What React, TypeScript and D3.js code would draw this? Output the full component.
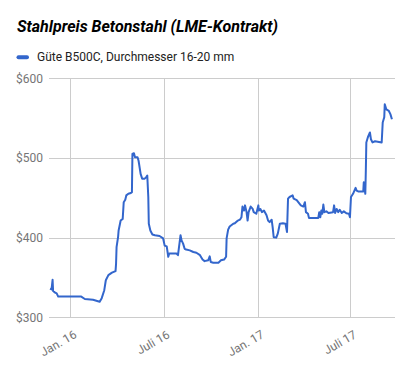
import { useRef, useEffect } from "react";
import * as d3 from "d3";

const title = "Stahlpreis Betonstahl (LME-Kontrakt)";
const seriesName = "Güte B500C, Durchmesser 16-20 mm";

const dates = [
  "2015-11-22", "2015-11-25", "2015-11-27", "2015-11-28", "2015-12-02", "2015-12-05", "2015-12-08", "2015-12-31",
  "2016-01-11", "2016-01-22", "2016-01-29", "2016-02-14", "2016-02-27", "2016-03-02", "2016-03-07", "2016-03-10",
  "2016-03-15", "2016-03-22", "2016-03-29", "2016-03-30", "2016-03-31", "2016-04-03", "2016-04-04", "2016-04-08",
  "2016-04-12", "2016-04-14", "2016-04-17", "2016-04-19", "2016-04-23", "2016-04-28", "2016-04-30", "2016-05-01",
  "2016-05-04", "2016-05-06", "2016-05-11", "2016-05-13", "2016-05-17", "2016-05-20", "2016-05-25", "2016-05-28",
  "2016-05-30", "2016-06-01", "2016-06-02", "2016-06-05", "2016-06-09", "2016-06-14", "2016-06-23", "2016-06-30",
  "2016-07-03", "2016-07-07", "2016-07-10", "2016-07-12", "2016-07-26", "2016-07-29", "2016-08-03", "2016-08-05",
  "2016-08-08", "2016-08-11", "2016-08-14", "2016-08-21", "2016-08-28", "2016-09-03", "2016-09-10", "2016-09-15",
  "2016-09-19", "2016-09-26", "2016-09-29", "2016-10-01", "2016-10-06", "2016-10-16", "2016-10-21", "2016-10-27",
  "2016-10-31", "2016-11-01", "2016-11-04", "2016-11-07", "2016-11-14", "2016-11-17", "2016-11-22", "2016-11-27",
  "2016-11-30", "2016-12-02", "2016-12-05", "2016-12-07", "2016-12-10", "2016-12-12", "2016-12-14", "2016-12-18",
  "2016-12-22", "2016-12-24", "2016-12-29", "2017-01-02", "2017-01-03", "2017-01-06", "2017-01-09", "2017-01-13",
  "2017-01-18", "2017-01-21", "2017-01-24", "2017-01-28", "2017-01-30", "2017-02-01", "2017-02-06", "2017-02-09",
  "2017-02-13", "2017-02-19", "2017-02-24", "2017-02-27", "2017-03-01", "2017-03-04", "2017-03-10", "2017-03-12",
  "2017-03-18", "2017-03-21", "2017-03-26", "2017-03-31", "2017-04-03", "2017-04-05", "2017-04-09", "2017-04-11",
  "2017-04-29", "2017-05-01", "2017-05-03", "2017-05-05", "2017-05-07", "2017-05-09", "2017-05-11", "2017-05-15",
  "2017-05-19", "2017-05-28", "2017-05-30", "2017-06-01", "2017-06-04", "2017-06-07", "2017-06-10", "2017-06-14",
  "2017-06-18", "2017-06-23", "2017-06-28", "2017-06-30", "2017-07-02", "2017-07-06", "2017-07-11", "2017-07-13",
  "2017-07-16", "2017-07-26", "2017-07-27", "2017-07-30", "2017-07-31", "2017-08-01", "2017-08-04", "2017-08-08",
  "2017-08-10", "2017-08-13", "2017-08-18", "2017-08-31", "2017-09-02", "2017-09-05", "2017-09-06", "2017-09-09",
  "2017-09-14", "2017-09-17", "2017-09-20",
];

const prices = [
  336, 335, 347, 333, 331, 330, 326, 326,
  326, 326, 323, 322, 319.5, 324, 334, 346.5,
  353, 356, 358, 367, 388, 401, 409, 421.5,
  423.5, 444.5, 447.5, 453, 455, 456, 457, 505,
  506, 501, 501, 496.5, 480, 474, 474, 476,
  478, 451, 417.5, 409, 404, 403, 402, 399,
  390, 389, 376, 380, 380, 378, 403, 396.5,
  392.5, 386, 385, 384, 382, 381, 378, 372.5,
  370.5, 371.5, 376.5, 369.5, 368.5, 368.5, 371.5, 372.5,
  376, 399, 410, 414, 417.5, 418, 421, 422.5,
  425.5, 439, 434, 440.5, 432, 421.5, 432, 439,
  436, 432, 430, 440.5, 434, 436, 432, 434,
  428, 421.5, 419.5, 422.5, 413, 400.5, 400, 405,
  417.5, 418, 417.5, 407, 449, 451, 453, 449,
  447, 444.5, 440.5, 439, 444.5, 432, 430, 424.5,
  424.5, 432, 425.5, 434, 430, 441.5, 432, 433,
  431, 432, 440.5, 431, 436, 432, 435, 431,
  433, 430.5, 430, 425.5, 451, 455, 462.5, 459,
  458, 458, 469.5, 455, 484, 519.5, 526, 532,
  523.5, 519.5, 521, 519.5, 544.5, 551, 567.5, 561,
  559, 555, 548.5,
];

const yTicks = [300, 400, 500, 600];
const xTickDates = ["2016-01-01", "2016-07-01", "2017-01-01", "2017-07-01"];
const xTickLabels = ["Jan. 16", "Juli 16", "Jan. 17", "Juli 17"];

export default function App() {
  const svgRef = useRef(null);

  const width = 408;
  const height = 371;

  useEffect(() => {
    const parse = d3.timeParse("%Y-%m-%d");
    const data = dates.map((d, i) => ({ date: parse(d), value: prices[i] }));

    const x = d3.scaleTime()
      .domain([parse("2015-11-20"), parse("2017-09-26")])
      .range([49, 395]);
    const y = d3.scaleLinear()
      .domain([300, 600])
      .range([317.3, 78.3]);

    const svg = d3.select(svgRef.current).html(null);
    const font = "Roboto, sans-serif";

    svg.append("rect").attr("width", width).attr("height", height).attr("fill", "#fff");

    svg.append("text")
      .attr("x", 17)
      .attr("y", 32)
      .attr("font-family", font)
      .attr("font-size", 16)
      .attr("font-weight", "bold")
      .attr("font-style", "italic")
      .attr("fill", "#000")
      .text(title);

    // legend
    svg.append("line")
      .attr("x1", 18.5).attr("x2", 27)
      .attr("y1", 57.3).attr("y2", 57.3)
      .attr("stroke", "#3366cc")
      .attr("stroke-width", 4)
      .attr("stroke-linecap", "round");
    svg.append("text")
      .attr("x", 37)
      .attr("y", 61.3)
      .attr("font-family", font)
      .attr("font-size", 12)
      .attr("fill", "#222")
      .text(seriesName);

    // grid
    svg.append("g")
      .selectAll("line")
      .data(yTicks)
      .join("line")
      .attr("x1", 49).attr("x2", 395)
      .attr("y1", d => Math.round(y(d)) + 0.5).attr("y2", d => Math.round(y(d)) + 0.5)
      .attr("stroke", "#ccc");

    svg.append("g")
      .selectAll("line")
      .data(xTickDates)
      .join("line")
      .attr("x1", d => Math.round(x(parse(d))) + 0.5).attr("x2", d => Math.round(x(parse(d))) + 0.5)
      .attr("y1", 78).attr("y2", 317)
      .attr("stroke", "#ccc");

    svg.append("g")
      .selectAll("text")
      .data(yTicks)
      .join("text")
      .attr("x", 43)
      .attr("y", d => y(d) + 4.3)
      .attr("text-anchor", "end")
      .attr("font-family", font)
      .attr("font-size", 12)
      .attr("fill", "#757575")
      .text(d => d3.format("$")(d));

    svg.append("g")
      .selectAll("text")
      .data(xTickDates)
      .join("text")
      .attr("text-anchor", "end")
      .attr("transform", d => `translate(${x(parse(d)) + 7},${337}) rotate(-30)`)
      .attr("font-family", font)
      .attr("font-size", 12)
      .attr("fill", "#757575")
      .text((d, i) => xTickLabels[i]);

    const line = d3.line()
      .x(d => x(d.date))
      .y(d => y(d.value));

    svg.append("path")
      .datum(data)
      .attr("d", line)
      .attr("fill", "none")
      .attr("stroke", "#3366cc")
      .attr("stroke-width", 2)
      .attr("stroke-linejoin", "round");
  }, []);

  return <svg ref={svgRef} width={width} height={height}
    style={{ position: "absolute", left: 0, top: 0 }}></svg>;
}
